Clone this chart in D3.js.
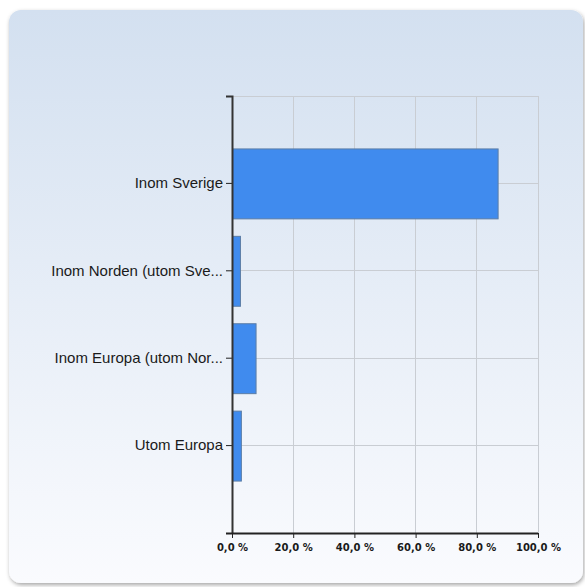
<!DOCTYPE html>
<html>
<head>
<meta charset="utf-8">
<script src="https://cdn.jsdelivr.net/npm/d3@7"></script>
<style>
  html, body { margin: 0; padding: 0; background: #ffffff; }
  svg { display: block; }
</style>
</head>
<body>
<script>
// Answers per region (percent of respondents)
const categories = [
  "Inom Sverige",
  "Inom Norden (utom Sve...",
  "Inom Europa (utom Nor...",
  "Utom Europa"
];
const values = [86.8, 2.6, 7.7, 2.9];
const xTicks = [0, 20, 40, 60, 80, 100];
const tickLabels = ["0,0 %", "20,0 %", "40,0 %", "60,0 %", "80,0 %", "100,0 %"];

const W = 585, H = 587;
const plot = { left: 232, right: 538, top: 96, bottom: 533 };

const svg = d3.select("body").append("svg").attr("width", W).attr("height", H);
const defs = svg.append("defs");

const grad = defs.append("linearGradient")
  .attr("id", "panelFill").attr("x1", 0).attr("y1", 0).attr("x2", 0).attr("y2", 1);
grad.append("stop").attr("offset", "0%").attr("stop-color", "#d3e0f0");
grad.append("stop").attr("offset", "100%").attr("stop-color", "#fafbfe");

const shadow = defs.append("filter").attr("id", "panelShadow")
  .attr("x", "-5%").attr("y", "-5%").attr("width", "110%").attr("height", "110%");
shadow.append("feDropShadow").attr("dx", 1).attr("dy", 2).attr("stdDeviation", 2)
  .attr("flood-color", "#000").attr("flood-opacity", 0.35);

// Rounded background panel
svg.append("rect")
  .attr("x", 9).attr("y", 10).attr("width", 574).attr("height", 573)
  .attr("rx", 12).attr("ry", 12)
  .attr("fill", "url(#panelFill)")
  .attr("filter", "url(#panelShadow)");

const x = d3.scaleLinear().domain([0, 100]).range([plot.left, plot.right]);
const step = (plot.bottom - plot.top) / (categories.length + 1);
const y = d3.scaleBand().domain(categories)
  .range([plot.top + step / 2, plot.bottom - step / 2])
  .paddingInner(0.2).paddingOuter(0.1);

// Grid
const grid = svg.append("g").attr("stroke", "#c9cdd3").attr("stroke-width", 1).attr("shape-rendering", "crispEdges");
grid.selectAll("line.v").data(xTicks.slice(1)).join("line")
  .attr("x1", d => x(d)).attr("x2", d => x(d))
  .attr("y1", plot.top).attr("y2", plot.bottom);
grid.append("line")
  .attr("x1", plot.left).attr("x2", plot.right)
  .attr("y1", plot.top).attr("y2", plot.top);
grid.selectAll("line.h").data(categories).join("line")
  .attr("x1", plot.left).attr("x2", plot.right)
  .attr("y1", d => y(d) + y.bandwidth() / 2).attr("y2", d => y(d) + y.bandwidth() / 2);

// Bars
svg.append("g").selectAll("rect").data(categories).join("rect")
  .attr("x", x(0) + 0.5)
  .attr("y", d => y(d) + 0.5)
  .attr("width", (d, i) => x(values[i]) - x(0))
  .attr("height", y.bandwidth())
  .attr("fill", "#408bee")
  .attr("stroke", "#5b7da6")
  .attr("stroke-width", 1);

// Left axis
const yAxis = svg.append("g")
  .attr("transform", `translate(${plot.left},0)`)
  .call(d3.axisLeft(y).tickSize(6).tickSizeOuter(0).tickPadding(3));
yAxis.select(".domain").remove();
yAxis.selectAll(".tick line").attr("stroke", "#222");
yAxis.selectAll(".tick text")
  .attr("fill", "#1a1a1a")
  .style("font-family", "'Liberation Sans', Arial, sans-serif")
  .style("font-size", "15px");
yAxis.append("path")
  .attr("d", `M-6,${plot.top + 0.5}H0.5V${plot.bottom}`)
  .attr("fill", "none").attr("stroke", "#333").attr("stroke-width", 2);

// Bottom axis
const xAxis = svg.append("g")
  .attr("transform", `translate(0,${plot.bottom})`)
  .call(d3.axisBottom(x).tickValues(xTicks).tickSizeInner(5).tickSizeOuter(0).tickPadding(6)
    .tickFormat((d, i) => tickLabels[i]));
xAxis.select(".domain").remove();
xAxis.selectAll(".tick line").attr("stroke", "#222");
xAxis.selectAll(".tick text")
  .attr("fill", "#1a1a1a")
  .style("font-family", "'DejaVu Sans', Verdana, sans-serif")
  .style("font-weight", "bold")
  .style("font-size", "10px");
xAxis.append("path")
  .attr("d", `M${plot.left - 6},0.5H${plot.right}`)
  .attr("fill", "none").attr("stroke", "#222").attr("stroke-width", 2);
</script>
</body>
</html>
